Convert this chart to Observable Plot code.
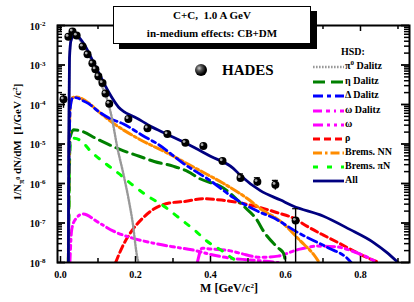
<!DOCTYPE html>
<html><head><meta charset="utf-8">
<script src="https://cdn.jsdelivr.net/npm/d3@7"></script>
<script src="https://cdn.jsdelivr.net/npm/@observablehq/plot@0.6"></script>
<style>
body{margin:0;background:#fff;}
#wrap{position:relative;width:414px;height:302px;overflow:hidden;font-family:"Liberation Serif","Times New Roman",serif;font-weight:bold;color:#000;}
#wrap svg{position:absolute;left:0;top:0;}
.abs{position:absolute;white-space:nowrap;}
#titlebox{left:113px;top:6px;width:198px;height:38px;box-sizing:border-box;border:1px solid #000;background:#fff;box-shadow:6px 5px 0 #000;font-size:11px;}
#titlebox div{position:absolute;left:0;width:100%;text-align:center;line-height:13px;}
.leg{font-size:10px;line-height:12px;}
sup.s{font-size:7px;position:relative;top:-4px;vertical-align:baseline;}
sub.s{font-size:8px;position:relative;top:3px;vertical-align:baseline;}
</style></head>
<body><div id="wrap"></div>
<script>
// ---------------- data ----------------
const mAll = [0.021,0.022,0.024,0.028,0.035,0.045,0.06,0.075,0.09,0.101,0.115,0.128,0.14,0.155,0.17,0.19,0.215,0.24,0.285,0.34,0.40,0.46,0.48,0.533,0.587,0.62,0.70,0.77,0.835,0.87,0.90];
const vAll = [1e-8,1e-5,1.5e-3,4.2e-3,5.4e-3,5.3e-3,3.7e-3,2.1e-3,1.05e-3,6.6e-4,3.6e-4,2.1e-4,1.35e-4,8.5e-5,6.5e-5,5.2e-5,3.9e-5,2.8e-5,1.75e-5,9.8e-6,4.9e-6,2.45e-6,1.6e-6,6.6e-7,3.8e-7,2.7e-7,1.5e-7,7e-8,3.2e-8,1.8e-8,1e-8];

const mPi0 = [0.021,0.022,0.024,0.028,0.035,0.045,0.06,0.075,0.09,0.1,0.12,0.135,0.152,0.168,0.181,0.192,0.205,0.208];
const vPi0 = [1e-8,1e-5,1.4e-3,4e-3,5.1e-3,4.9e-3,3.3e-3,1.8e-3,8.5e-4,4.5e-4,1.8e-4,5.6e-5,7.8e-6,1.7e-6,4.3e-7,1.1e-7,1.3e-8,1e-8];

const mEta = [0.021,0.022,0.026,0.035,0.05,0.1,0.16,0.21,0.25,0.3,0.34,0.37,0.435,0.488,0.525,0.541,0.579,0.595,0.6];
const vEta = [1e-8,1e-7,1.5e-5,2.3e-5,2.2e-5,1.3e-5,7.2e-6,4.9e-6,3.6e-6,2.75e-6,2.0e-6,1.35e-6,7.6e-7,2.7e-7,1.15e-7,6.3e-8,2.4e-8,1.7e-8,1e-8];

const mDelta = [0.021,0.022,0.026,0.032,0.04,0.06,0.075,0.1,0.128,0.168,0.221,0.259,0.328,0.4,0.461,0.525,0.568,0.632,0.712,0.765,0.775];
const vDelta = [1e-8,1e-6,8e-5,1.45e-4,1.5e-4,1.25e-4,1.05e-4,6.8e-5,4.6e-5,3.2e-5,1.6e-5,1.0e-5,3.2e-6,1.17e-6,4.4e-7,2.0e-7,1.35e-7,5.8e-8,2.4e-8,1.26e-8,1e-8];

const mOmegaD = [0.025,0.03,0.04,0.06,0.1,0.14,0.19,0.24,0.3,0.35,0.4,0.45,0.5,0.55,0.58];
const vOmegaD = [1e-8,7e-8,1.25e-7,1.7e-7,1.05e-7,6.3e-8,4.2e-8,3.2e-8,2.5e-8,2.1e-8,1.6e-8,1.3e-8,1.17e-8,1.07e-8,1e-8];

const mOmega = [0.365,0.378,0.4,0.45,0.48,0.533,0.58,0.632,0.685,0.735,0.781,0.819,0.845];
const vOmega = [1e-8,2.3e-8,2.2e-8,2.0e-8,1.7e-8,1.35e-8,1.45e-8,2.1e-8,2.6e-8,2.5e-8,1.9e-8,1.35e-8,1e-8];

const mRho = [0.147,0.165,0.19,0.22,0.25,0.29,0.33,0.38,0.43,0.48,0.53,0.58,0.62,0.66,0.70,0.74,0.78,0.82,0.85];
const vRho = [1e-8,2.5e-8,6.3e-8,1.35e-7,2.3e-7,3.2e-7,3.5e-7,4.1e-7,3.8e-7,3.2e-7,2.5e-7,1.8e-7,1.35e-7,8e-8,5e-8,3.2e-8,2e-8,1.3e-8,1e-8];

const mNN = [0.021,0.022,0.026,0.032,0.04,0.075,0.1,0.133,0.205,0.285,0.373,0.435,0.499,0.533,0.587,0.64,0.675,0.69];
const vNN = [1e-8,1e-6,9e-5,1.5e-4,1.55e-4,1.1e-4,6.8e-5,3.8e-5,1.41e-5,5.9e-6,2.1e-6,1.0e-6,4.1e-7,2.3e-7,1.1e-7,3.5e-8,1.6e-8,1e-8];

const mPiN = [0.021,0.022,0.026,0.035,0.055,0.08,0.12,0.155,0.19,0.23,0.28,0.32,0.36,0.39,0.43,0.47,0.48];
const vPiN = [1e-8,1e-7,1e-5,1.4e-5,1.2e-5,6.6e-6,3.2e-6,1.8e-6,9.5e-7,5e-7,2.5e-7,1.26e-7,6.3e-8,3.5e-8,2e-8,1.1e-8,1e-8];

// HADES data points
const mData  = [0.008,0.021,0.032,0.043,0.059,0.072,0.085,0.093,0.101,0.112,0.12,0.13,0.181,0.232,0.285,0.333,0.381,0.432,0.48,0.525,0.573,0.627];
const vData  = [1.35e-4,5.2e-3,7.1e-3,5.6e-3,2.95e-3,1.86e-3,1.1e-3,7.8e-4,5.2e-4,3.5e-4,1.9e-4,1.05e-4,4.3e-5,2.5e-5,1.78e-5,1.07e-5,8.9e-6,3.7e-6,1.38e-6,1.1e-6,9.3e-7,1.15e-7];
const loData = [8e-5,5.2e-3,7.1e-3,5.6e-3,2.95e-3,1.86e-3,1.1e-3,7.8e-4,5.2e-4,3.5e-4,1.9e-4,1.05e-4,4.3e-5,2.5e-5,1.78e-5,1.07e-5,8.9e-6,3.7e-6,1.1e-6,8.5e-7,6.8e-7,1e-8];
const hiData = [1.8e-4,5.2e-3,7.1e-3,5.6e-3,2.95e-3,1.86e-3,1.1e-3,7.8e-4,5.2e-4,3.5e-4,1.9e-4,1.05e-4,4.3e-5,2.5e-5,1.78e-5,1.07e-5,8.9e-6,3.7e-6,1.75e-6,1.4e-6,1.2e-6,2.3e-7];

// axis ticks
const xMajor = [0, 0.2, 0.4, 0.6, 0.8];
const xLabels = ["0.0", "0.2", "0.4", "0.6", "0.8"];
const xMinor = [0.1, 0.3, 0.5, 0.7, 0.9];
const yDecades = [1e-8, 1e-7, 1e-6, 1e-5, 1e-4, 1e-3, 1e-2];
const yExps = ["-8", "-7", "-6", "-5", "-4", "-3", "-2"];
const yMinorMult = [2, 3, 4, 5, 6, 7, 8, 9];

// series legend
const seriesNames = ["π0 Dalitz", "η Dalitz", "Δ Dalitz", "ω Dalitz", "ω", "ρ", "Brems. NN", "Brems. πN", "All"];
const seriesLabelsHTML = ["π<sup class='s'>0</sup> Dalitz", "η Dalitz", "Δ Dalitz", "ω Dalitz", "ω", "ρ", "Brems. NN", "Brems. πN", "All"];

// ---------------- styles ----------------
const styles = [
  {m: mPi0,   v: vPi0,   color: "#999999", dash: "1.6,1.4",       w: 2.4},
  {m: mEta,   v: vEta,   color: "#008000", dash: "12,6",          w: 3},
  {m: mDelta, v: vDelta, color: "#0000ff", dash: "10,4,4,4",      w: 2.8},
  {m: mOmegaD,v: vOmegaD,color: "#ff00ff", dash: "9,4,4,4,2,4",   w: 3},
  {m: mOmega, v: vOmega, color: "#ff00ff", dash: "10,4,3,4,3,4",  w: 3},
  {m: mRho,   v: vRho,   color: "#ff0000", dash: "7,4",           w: 3},
  {m: mNN,    v: vNN,    color: "#ff8c00", dash: "9,3,2.5,3",     w: 3},
  {m: mPiN,   v: vPiN,   color: "#00ff00", dash: "5,9",           w: 3},
  {m: mAll,   v: vAll,   color: "#000080", dash: null,            w: 2.8}
];
const drawOrder = [5, 3, 4, 7, 1, 6, 2, 0, 8];

const W = 414, H = 302, mL = 57, mR = 5, mT = 25, mB = 40;
const pw = W - mL - mR, ph = H - mT - mB;

const rows = i => styles[i].m.map((m, k) => ({M: m, v: styles[i].v[k]}));
const pts = mData.map((m, k) => ({M: m, v: vData[k], lo: loData[k], hi: hiData[k]}));
const errPts = pts.filter(d => d.lo !== d.hi);
const yMinor = yDecades.slice(0, -1).flatMap(d => yMinorMult.map(k => d * k));

const marks = [];
for (const i of drawOrder) {
  const s = styles[i];
  marks.push(Plot.line(rows(i), {x: "M", y: "v", stroke: s.color, strokeWidth: s.w,
    strokeDasharray: s.dash || undefined, strokeLinejoin: "round", curve: "monotone-x", clip: true}));
}
// HADES data
marks.push(Plot.ruleX(errPts, {x: "M", y1: "lo", y2: "hi", stroke: "#000", strokeWidth: 1.4}));
marks.push(Plot.ruleY(errPts, {y: "hi", x1: d => d.M - 0.008, x2: d => d.M + 0.008, stroke: "#000", strokeWidth: 1.2}));
marks.push(Plot.dot(pts, {x: "M", y: "v", r: 4, fill: "#000", stroke: "none"}));
marks.push(Plot.dot(pts, {x: "M", y: "v", r: 1.4, fill: "#aaa", dx: -1.3, dy: -1.3}));
// ticks (inward) on all four sides
marks.push(Plot.tickX(xMajor, {x: d => d, insetTop: ph - 6, stroke: "#000", strokeWidth: 1.5}));
marks.push(Plot.tickX(xMinor, {x: d => d, insetTop: ph - 4, stroke: "#000", strokeWidth: 1.5}));
marks.push(Plot.tickX(xMajor, {x: d => d, insetBottom: ph - 6, stroke: "#000", strokeWidth: 1.5}));
marks.push(Plot.tickX(xMinor, {x: d => d, insetBottom: ph - 4, stroke: "#000", strokeWidth: 1.5}));
marks.push(Plot.tickY(yDecades, {y: d => d, insetRight: pw - 8, stroke: "#000", strokeWidth: 1.8}));
marks.push(Plot.tickY(yMinor, {y: d => d, insetRight: pw - 5, stroke: "#000", strokeWidth: 1.5}));
marks.push(Plot.tickY(yDecades, {y: d => d, insetLeft: pw - 8, stroke: "#000", strokeWidth: 1.8}));
marks.push(Plot.tickY(yMinor, {y: d => d, insetLeft: pw - 5, stroke: "#000", strokeWidth: 1.5}));
marks.push(Plot.frame({stroke: "#000", strokeWidth: 2}));
marks.push(Plot.axisX(xMajor, {tickSize: 0, tickPadding: 8, tickFormat: d => xLabels[xMajor.indexOf(d)], label: null}));
marks.push(Plot.axisY(yDecades, {tickSize: 0, tickPadding: 12, tickFormat: d => yExps[yDecades.indexOf(d)], label: null, dy: 1}));

const plot = Plot.plot({
  width: W, height: H,
  marginLeft: mL, marginRight: mR, marginTop: mT, marginBottom: mB,
  style: {fontFamily: "Liberation Serif, Times New Roman, serif", fontSize: "10px", fontWeight: "bold", background: "transparent", color: "#000"},
  x: {domain: [-0.008, 0.9307], axis: null},
  y: {type: "log", domain: [1e-8, 1e-2], axis: null},
  marks
});

// superscript decade labels: 10^n
d3.select(plot).selectAll('g[aria-label="y-axis tick label"] text').each(function () {
  const e = this.textContent;
  const t = d3.select(this);
  t.text(null);
  t.append("tspan").text("10");
  t.append("tspan").attr("dy", "-0.5em").attr("font-size", "7px").text(e);
});

const wrap = document.getElementById("wrap");
wrap.appendChild(plot);

// title box
const tb = document.createElement("div");
tb.className = "abs"; tb.id = "titlebox";
tb.innerHTML = "<div style='top:2px'>C+C,&nbsp; 1.0 A GeV</div><div style='top:20px'>in-medium effects: CB+DM</div>";
wrap.appendChild(tb);

// axis labels
const xl = document.createElement("div");
xl.className = "abs";
xl.style.cssText = "left:129px;width:200px;top:282px;text-align:center;font-size:12px;line-height:12px;";
xl.innerHTML = "M [GeV/c<sup class='s'>2</sup>]";
wrap.appendChild(xl);

const yl = document.createElement("div");
yl.className = "abs";
yl.style.cssText = "left:-83px;width:200px;top:135px;height:14px;text-align:center;font-size:11px;line-height:14px;transform:rotate(-90deg);transform-origin:100px 7px;";
yl.innerHTML = "1/N<sub class='s'>π<sup class='s' style='font-size:6px'>0</sup></sub> dN/dM&nbsp; [1/GeV /c<sup class='s'>2</sup>]";
wrap.appendChild(yl);

// HADES marker label
const hm = document.createElement("div");
hm.className = "abs";
hm.style.cssText = "left:195px;top:64px;width:12px;height:12px;border-radius:50%;background:radial-gradient(circle at 35% 35%, #ccc 0, #555 25%, #000 60%);";
wrap.appendChild(hm);
const hl = document.createElement("div");
hl.className = "abs";
hl.style.cssText = "left:222px;top:61px;font-size:15px;line-height:18px;";
hl.textContent = "HADES";
wrap.appendChild(hl);

// legend
const hsd = document.createElement("div");
hsd.className = "abs leg";
hsd.style.cssText = "left:341px;top:46px;";
hsd.textContent = "HSD:";
wrap.appendChild(hsd);
const legY = [67, 81.5, 96, 110.5, 124.5, 139, 153, 167, 181];
seriesNames.forEach((name, i) => {
  const s = styles[i];
  const yc = legY[i];
  const sw = document.createElementNS("http://www.w3.org/2000/svg", "svg");
  sw.setAttribute("width", 31); sw.setAttribute("height", 8);
  sw.style.cssText = `position:absolute;left:313px;top:${yc - 4}px;`;
  const ln = document.createElementNS("http://www.w3.org/2000/svg", "line");
  ln.setAttribute("x1", 0); ln.setAttribute("x2", 31); ln.setAttribute("y1", 4); ln.setAttribute("y2", 4);
  ln.setAttribute("stroke", s.color); ln.setAttribute("stroke-width", s.w);
  if (s.dash) ln.setAttribute("stroke-dasharray", s.dash);
  sw.appendChild(ln);
  wrap.appendChild(sw);
  const lb = document.createElement("div");
  lb.className = "abs leg";
  lb.style.cssText = `left:345px;top:${yc - 7}px;`;
  lb.innerHTML = seriesLabelsHTML[i];
  wrap.appendChild(lb);
});
</script>
</body></html>
